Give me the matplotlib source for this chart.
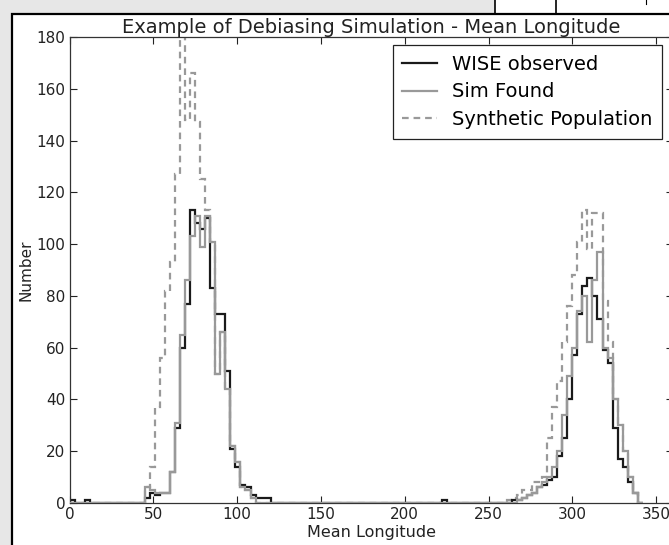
import numpy as np
import matplotlib
matplotlib.use("Agg")
import matplotlib.pyplot as plt
from matplotlib.patches import Rectangle
from matplotlib.lines import Line2D

# ---- data (counts per 3-degree bin, bins 0..342) ----
bin_edges = np.arange(0, 345, 3)
nb = len(bin_edges) - 1

wise_nonzero = {0: 1, 3: 1,
                15: 2, 16: 4, 17: 3, 18: 4, 19: 4, 20: 12, 21: 29, 22: 60, 23: 77,
                24: 113, 25: 108, 26: 106, 27: 110, 28: 83, 29: 73, 30: 73, 31: 51,
                32: 21, 33: 14, 34: 7, 35: 6, 36: 3, 37: 2, 38: 2, 39: 2,
                74: 1,
                88: 1, 89: 1, 90: 2, 91: 3, 92: 4, 93: 6, 94: 7, 95: 9, 96: 10,
                97: 18, 98: 25, 99: 40, 100: 57, 101: 73, 102: 84, 103: 87, 104: 80,
                105: 71, 106: 59, 107: 54, 108: 29, 109: 17, 110: 14, 111: 8, 112: 4}
sim_nonzero = {15: 6, 16: 5, 17: 4, 18: 4, 19: 4, 20: 12, 21: 31, 22: 65, 23: 86,
               24: 103, 25: 111, 26: 99, 27: 111, 28: 101, 29: 50, 30: 66, 31: 44,
               32: 22, 33: 16, 34: 6, 35: 5, 36: 2,
               89: 1, 90: 2, 91: 3, 92: 4, 93: 6, 94: 8, 95: 10, 96: 14, 97: 20,
               98: 34, 99: 49, 100: 60, 101: 74, 102: 80, 103: 62, 104: 86, 105: 97,
               106: 60, 107: 56, 108: 40, 109: 30, 110: 20, 111: 10, 112: 4}
synth_nonzero = {15: 6, 16: 14, 17: 37, 18: 56, 19: 82, 20: 93, 21: 127, 22: 200,
                 23: 148, 24: 166, 25: 147, 26: 125, 27: 113, 28: 101, 29: 50,
                 30: 66, 31: 44, 32: 22, 33: 16, 34: 6, 35: 5, 36: 2,
                 87: 1, 88: 2, 89: 3, 90: 5, 91: 5, 92: 8, 93: 8, 94: 10, 95: 25,
                 96: 37, 97: 47, 98: 62, 99: 76, 100: 88, 101: 101, 102: 113,
                 103: 98, 104: 112, 105: 112, 106: 78, 107: 62, 108: 40, 109: 30,
                 110: 20, 111: 10, 112: 4}

def to_counts(d):
    c = np.zeros(nb)
    for k, v in d.items():
        c[k] = v
    return c

wise_counts = to_counts(wise_nonzero)
sim_counts = to_counts(sim_nonzero)
synth_counts = to_counts(synth_nonzero)

x_ticks = [0, 50, 100, 150, 200, 250, 300, 350]
y_ticks = [0, 20, 40, 60, 80, 100, 120, 140, 160, 180]

# ---- figure ----
W, H = 669, 545
fig = plt.figure(figsize=(W / 100, H / 100), dpi=100)
fig.patch.set_facecolor('#e7e7e7')

def fx(px):
    return px / W

def fy(py):
    return 1 - py / H

# white framed panel
fig.add_artist(Rectangle((fx(12), fy(H + 20)), 1.2, fy(14) - fy(H + 20),
                         transform=fig.transFigure, facecolor='white',
                         edgecolor='black', linewidth=1.6, zorder=-2))
# piece of table above the frame (top right)
fig.add_artist(Rectangle((fx(495), fy(14)), 1.0, fy(-5) - fy(14),
                         transform=fig.transFigure, facecolor='white',
                         edgecolor='none', zorder=-3))
for px in (495, 556):
    fig.add_artist(Line2D([fx(px), fx(px)], [fy(0), fy(14)], transform=fig.transFigure,
                          color='black', linewidth=1.2, zorder=-1))
fig.add_artist(Line2D([fx(646), fx(646)], [fy(0), fy(4)], transform=fig.transFigure,
                      color='black', linewidth=0.8, zorder=-1))

ax = fig.add_axes([fx(69.5), fy(503), fx(672.9) - fx(69.5), fy(37) - fy(503)])
ax.set_facecolor('white')

gray = '#999999'
ax.stairs(synth_counts, bin_edges, color=gray, linestyle=(0, (3.0, 2.2)),
          linewidth=1.6, label='Synthetic Population', zorder=2)
ax.stairs(sim_counts, bin_edges, color=gray, linewidth=1.6,
          label='Sim Found', zorder=3)
ax.stairs(wise_counts, bin_edges, color='#1a1a1a', linewidth=1.6,
          label='WISE observed', zorder=2.5)

ax.set_xlim(0, 360)
ax.set_ylim(0, 180)
ax.set_xticks(x_ticks)
ax.set_yticks(y_ticks)
ax.tick_params(direction='in', top=True, right=True, length=5, width=0.8,
               labelsize=11, colors='#222222', pad=3)
for s in ax.spines.values():
    s.set_linewidth(0.9)
    s.set_color('#333333')

ax.set_title('Example of Debiasing Simulation - Mean Longitude', fontsize=14,
             color='#222222', pad=3)
ax.set_xlabel('Mean Longitude', fontsize=11.5, color='#222222', labelpad=2)
ax.set_ylabel('Number', fontsize=11, color='#222222', labelpad=2)

h, l = ax.get_legend_handles_labels()
order = [2, 1, 0]
leg = ax.legend([h[i] for i in order], [l[i] for i in order], loc='upper right',
                bbox_to_anchor=(fx(662), fy(45)), bbox_transform=fig.transFigure,
                fontsize=14, frameon=True, fancybox=False, framealpha=1,
                edgecolor='#222222', borderaxespad=0, handlelength=1.8,
                handletextpad=0.75, borderpad=0.5, labelspacing=0.45)
leg.get_frame().set_linewidth(0.9)

fig.savefig('out.png', dpi=100, facecolor=fig.get_facecolor())
